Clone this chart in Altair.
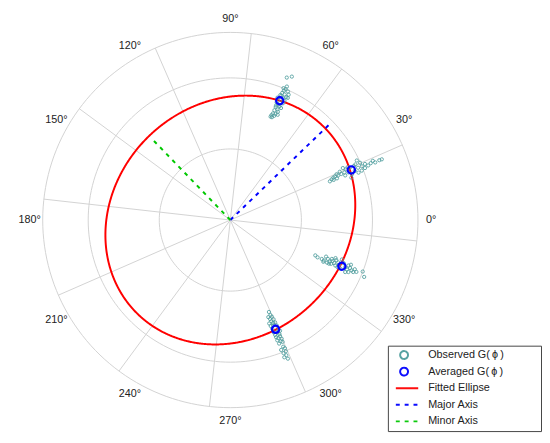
import altair as alt
import pandas as pd

FONT = "Liberation Sans"
NBSP = "\u00a0"
ZWSP = "\u200b"

# ---------------- polar frame ----------------
ring_values = [1.0, 2.0, 2.64]
spoke_angles = list(range(0, 360, 30))
spoke_rotation = -6.4
label_angles = list(range(0, 360, 30))
label_texts = [f"{a}°" for a in label_angles]
label_radius = 2.825

# ---------------- data ----------------
avg_phi = [67.5, 22.5, 337.5, 292.5]
avg_g = [1.817, 1.843, 1.698, 1.664]

dg_A = [0.379, 0.339, 0.223, 0.183, 0.153, 0.165, 0.116, 0.108, 0.128, 0.071, 0.083, 0.049,
        0.083, 0.029, 0.020, 0.025, -0.037, -0.016, -0.057, -0.081, -0.074, -0.087, -0.104,
        -0.127, -0.152, -0.152, -0.201, -0.195, -0.231, -0.225, -0.256, -0.193, -0.256, 0.077, 0.184]
dphi_A = [-0.71, 0.88, -0.46, -0.38, 0.00, -1.64, 0.29, -0.88, -2.44, 0.17, -1.97, -0.88,
          -2.69, 1.43, -0.21, -1.93, 1.01, -1.72, 0.00, 0.76, -0.95, -1.85, 0.63,
          -0.59, 0.63, -1.22, 0.71, -0.55, 1.09, -0.34, 1.22, -1.72, 0.46, 0.71, 0.55]

dg_B = [0.453, 0.416, 0.351, 0.288, 0.243, 0.209, 0.156, 0.152, 0.124, 0.083, 0.099, 0.053,
        0.040, -0.011, -0.008, -0.033, -0.067, -0.104, -0.099, -0.153, -0.160, -0.203, -0.215,
        -0.249, -0.276, -0.307, -0.340, -0.283, -0.232, -0.039, 0.133, 0.188, 0.080, 0.328,
        -0.051, -0.109]
dphi_B = [-0.66, -0.62, -0.82, -0.45, -0.90, 0.12, -0.25, 1.31, 2.71, 1.48, -0.25, 1.11,
          -0.94, -1.80, 1.15, 1.76, 1.15, 0.16, 2.30, 0.04, 1.31, -0.04, 0.84,
          0.08, -0.12, -0.62, -1.27, -1.27, -1.15, -3.20, -1.89, -1.39, -2.21, 0.08,
          -0.53, -1.27]

dg_C = [-0.403, -0.363, -0.300, -0.263, -0.256, -0.221, -0.184, -0.211, -0.152, -0.148, -0.116,
        -0.124, -0.104, -0.089, -0.065, -0.044, -0.052, 0.008, 0.051, 0.083, 0.083, 0.117,
        0.149, 0.179, 0.185, 0.220, 0.301, 0.348, 0.076, 0.117, -0.003, -0.168, -0.180,
        -0.263, 0.112, -0.033]
dphi_C = [-0.09, -0.66, -0.57, -0.88, 1.59, 0.80, -0.27, -1.28, -0.97, 0.71, 0.00,
          2.61, 1.77, -0.93, 1.02, 0.04, -1.19, 1.68, 0.22, -0.46, 1.46, 0.64,
          -0.04, -0.44, 0.93, 0.13, 1.24, -0.53, -1.86, -1.28, -1.33, 1.55, -1.37,
          -1.68, 2.17, 3.05]

dg_D = [-0.261, -0.212, -0.197, -0.183, -0.163, -0.141, -0.127, -0.096, -0.109, -0.092, -0.068,
        -0.063, -0.043, -0.027, 0.024, 0.031, 0.051, 0.072, 0.083, 0.105, 0.131, 0.115,
        0.156, 0.153, 0.183, 0.201, 0.205, 0.267, 0.296, 0.299, 0.341, 0.352, 0.395,
        0.448, 0.411, 0.044]
dphi_D = [0.27, 0.36, -1.13, 0.77, -0.63, 1.04, -0.50, 0.05, -1.90, 1.13, -1.63,
          -0.41, 1.27, -1.40, 1.13, -1.40, 0.27, -1.18, 0.81, -1.18, -0.36, 0.68,
          0.90, -1.18, 0.05, 0.72, -0.95, 0.14, 0.54, -1.13, 0.41, -0.72, 0.00,
          0.05, -1.04, 1.67]

obs_dg = [dg_A, dg_B, dg_C, dg_D]
obs_dphi = [dphi_A, dphi_B, dphi_C, dphi_D]

# fitted ellipse (semi-axes, orientation in degrees)
ell_a, ell_b, ell_rot = 1.857, 1.645, 44.0
axis_names = ["Major Axis", "Minor Axis"]
axis_phi = [44.0, 134.0]
axis_len = [1.923, 1.605]

S_OBS = "Observed G(\u2009ϕ\u2009)"
S_AVG = "Averaged G(\u2009ϕ\u2009)"
series_names = [S_OBS, S_AVG, "Fitted Ellipse", "Major Axis", "Minor Axis"]
series_colors = ["#4f9e9e", "#0000ff", "#ff0000", "#0000ff", "#00c800"]
LINE_SYM = "M-2.1,0H3.6"
series_shapes = ["circle", "circle", LINE_SYM, LINE_SYM, LINE_SYM]
series_dash = [[1, 0], [1, 0], [1, 0], [4, 5], [4, 5]]

# ---------------- tables ----------------
obs_rows = []
for k in range(4):
    for dg, dp in zip(obs_dg[k], obs_dphi[k]):
        obs_rows.append({"series": S_OBS, "phi": avg_phi[k] + dp, "g": avg_g[k] + dg})
obs_df = pd.DataFrame(obs_rows)
avg_df = pd.DataFrame({"series": S_AVG, "phi": avg_phi, "g": avg_g})
axis_df = pd.DataFrame({"series": axis_names, "phi": axis_phi, "g": axis_len})
spoke_df = pd.DataFrame({"a": spoke_angles})
label_df = pd.DataFrame({"a": label_angles, "text": label_texts})

# ---------------- layout ----------------
U = 72.4
W, H = 540, 422
CX, CY = 226.5, 212
xs = alt.Scale(domain=[-CX / U, (W - CX) / U], nice=False, zero=False)
ys = alt.Scale(domain=[-(H - CY) / U, CY / U], nice=False, zero=False)
X = alt.X("x:Q", scale=xs, axis=None)
Y = alt.Y("y:Q", scale=ys, axis=None)

XY = dict(x="datum.g*cos(datum.phi*PI/180)", y="datum.g*sin(datum.phi*PI/180)")

leg = alt.Legend(
    title=None, orient="none", legendX=387, legendY=340,
    symbolSize=64, symbolStrokeWidth=2, clipHeight=11,
    labelFont=FONT, labelFontSize=11, labelColor="#222222",
    padding=4, rowPadding=4.9, symbolOffset=7, labelOffset=19,
    strokeColor="#444444", fillColor="white",
    labelExpr="datum.label + '" + NBSP * 11 + ZWSP + "'",
)
COLOR = alt.Color("series:N", scale=alt.Scale(domain=series_names, range=series_colors), legend=leg)
SHAPE = alt.Shape("series:N", scale=alt.Scale(domain=series_names, range=series_shapes), legend=leg)
DASH = alt.StrokeDash("series:N", scale=alt.Scale(domain=series_names, range=series_dash), legend=leg)

layers = []
for rv in ring_values:
    ring = alt.Chart(alt.sequence(0, 362, 2, as_="t")).transform_calculate(
        g=str(rv), phi="datum.t"
    ).transform_calculate(**XY).mark_line(color="#d2d2d2", strokeWidth=1).encode(
        x=X, y=Y, order="t:Q")
    layers.append(ring)

spokes = alt.Chart(spoke_df).transform_calculate(
    phi=f"datum.a + ({spoke_rotation})", g=str(ring_values[-1]), x0="0", y0="0"
).transform_calculate(**XY).mark_rule(color="#d2d2d2", strokeWidth=1).encode(
    x=alt.X("x0:Q", scale=xs, axis=None), y=alt.Y("y0:Q", scale=ys, axis=None),
    x2="x:Q", y2="y:Q")
layers.append(spokes)

labels = alt.Chart(label_df).transform_calculate(
    phi="datum.a", g=str(label_radius)
).transform_calculate(**XY).mark_text(
    font=FONT, fontSize=11, color="#222222", align="center", baseline="middle"
).encode(x=X, y=Y, text="text:N")
layers.append(labels)

ellipse = alt.Chart(alt.sequence(0, 361, 1, as_="t")).transform_calculate(
    series="'Fitted Ellipse'",
    x=f"{ell_a}*cos(datum.t*PI/180)*cos({ell_rot}*PI/180) - {ell_b}*sin(datum.t*PI/180)*sin({ell_rot}*PI/180)",
    y=f"{ell_a}*cos(datum.t*PI/180)*sin({ell_rot}*PI/180) + {ell_b}*sin(datum.t*PI/180)*cos({ell_rot}*PI/180)",
).mark_line(strokeWidth=2).encode(x=X, y=Y, order="t:Q", color=COLOR, strokeDash=DASH)
layers.append(ellipse)

axes_lines = alt.Chart(axis_df).transform_calculate(**XY).transform_calculate(
    x0="0", y0="0").mark_rule(strokeWidth=2).encode(
    x=alt.X("x0:Q", scale=xs, axis=None), y=alt.Y("y0:Q", scale=ys, axis=None),
    x2="x:Q", y2="y:Q", color=COLOR, strokeDash=DASH)
layers.append(axes_lines)

observed = alt.Chart(obs_df).transform_calculate(**XY).mark_point(
    filled=False, size=11, strokeWidth=0.9, opacity=0.95
).encode(x=X, y=Y, color=COLOR, shape=SHAPE)
layers.append(observed)

averaged = alt.Chart(avg_df).transform_calculate(**XY).mark_point(
    filled=False, size=55, strokeWidth=2.2, opacity=1
).encode(x=X, y=Y, color=COLOR, shape=SHAPE)
layers.append(averaged)

chart = alt.layer(*layers).properties(
    width=W, height=H, padding=0, background="white"
).configure_view(strokeWidth=0)

chart.save("out.html", embed_options={"renderer": "svg", "actions": False})
